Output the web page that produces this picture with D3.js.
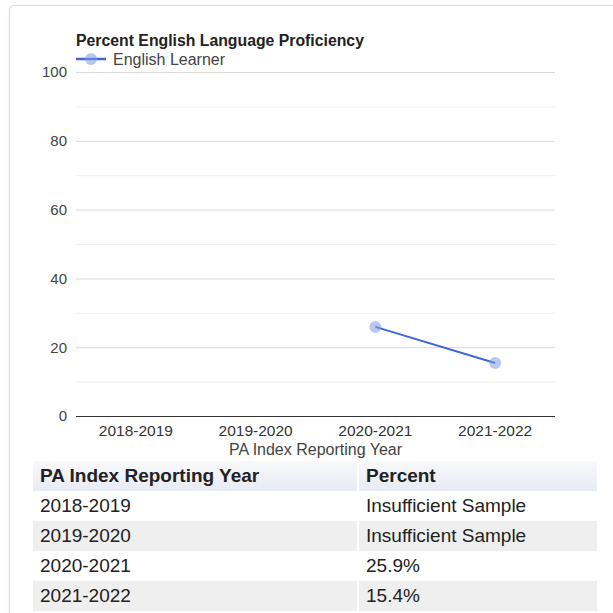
<!DOCTYPE html>
<html>
<head>
<meta charset="utf-8">
<script src="https://cdn.jsdelivr.net/npm/d3@7"></script>
<style>
  body { margin: 0; background: #fff; font-family: "Liberation Sans", Arial, sans-serif; }
  #card {
    position: absolute; left: 9px; top: 5px; width: 620px; height: 640px;
    border: 1px solid #dcdcdc; border-radius: 5px; box-shadow: 0 0 3px rgba(0,0,0,0.08);
    background: #fff;
  }
  #chart { position: absolute; left: 0; top: 0; }
  table {
    position: absolute; left: 31px; top: 461px; width: 568px;
    border-collapse: separate; border-spacing: 2px 0;
    font-size: 19px; color: #222;
  }
  th { text-align: left; font-weight: bold; height: 30px; padding: 0 7px;
       background: linear-gradient(#f9f9fb, #e8ebf4); }
  td { height: 30px; padding: 0 7px; }
  tr.odd td { background: #fff; }
  tr.even td { background: #efefef; }
</style>
</head>
<body>
<div id="card"></div>
<svg id="chart" width="613" height="460"></svg>
<table id="tbl"></table>
<script>
const years = ["2018-2019", "2019-2020", "2020-2021", "2021-2022"];
const percents = [null, null, 25.9, 15.4];
const tableValues = ["Insufficient Sample", "Insufficient Sample", "25.9%", "15.4%"];
const yTicks = [0, 20, 40, 60, 80, 100];
const yMinor = [10, 30, 50, 70, 90];

const svg = d3.select("#chart");
const plotLeft = 76, plotRight = 555, plotTop = 72, plotBottom = 416;

const x = d3.scaleBand().domain(years).range([plotLeft, plotRight]);
const y = d3.scaleLinear().domain([0, 100]).range([plotBottom, plotTop]);

// gridlines
svg.append("g").selectAll("line").data(yMinor).join("line")
  .attr("x1", plotLeft).attr("x2", plotRight)
  .attr("y1", d => y(d) + 0.5).attr("y2", d => y(d) + 0.5)
  .attr("stroke", "#f0f0f0");
svg.append("g").selectAll("line").data(yTicks.filter(d => d > 0)).join("line")
  .attr("x1", plotLeft).attr("x2", plotRight)
  .attr("y1", d => y(d) + 0.5).attr("y2", d => y(d) + 0.5)
  .attr("stroke", "#d9d9d9");

// y labels
const yAxis = d3.axisLeft(y).tickValues(yTicks).tickSize(0).tickPadding(9);
svg.append("g").attr("transform", `translate(${plotLeft},0)`).call(yAxis)
  .call(g => g.select(".domain").remove())
  .selectAll("text").attr("font-size", 15).attr("fill", "#444")
  .attr("font-family", "Liberation Sans, Arial, sans-serif");

// x axis
const xAxis = d3.axisBottom(x).tickSize(0).tickPadding(9);
svg.append("g").attr("transform", `translate(0,${plotBottom})`).call(xAxis)
  .call(g => g.select(".domain").attr("stroke", "#333").attr("d", `M${plotLeft},0.5H${plotRight}`))
  .selectAll("text").attr("font-size", 15.5).attr("fill", "#333").attr("dy", "0.72em")
  .attr("font-family", "Liberation Sans, Arial, sans-serif");

svg.append("text").attr("x", (plotLeft + plotRight) / 2).attr("y", 455)
  .attr("text-anchor", "middle").attr("font-size", 16).attr("fill", "#444")
  .text("PA Index Reporting Year");

// series
const pts = years.map((yr, i) => ({ yr, v: percents[i] })).filter(d => d.v !== null);
const cx = d => x(d.yr) + x.bandwidth() / 2;
svg.append("path").datum(pts)
  .attr("d", d3.line().x(cx).y(d => y(d.v)))
  .attr("fill", "none").attr("stroke", "#3e67d4").attr("stroke-width", 2);
svg.selectAll("circle.pt").data(pts).join("circle").attr("class", "pt")
  .attr("cx", cx).attr("cy", d => y(d.v)).attr("r", 6)
  .attr("fill", "#7c9ce6").attr("fill-opacity", 0.55);

// title + legend
svg.append("text").attr("x", plotLeft).attr("y", 46)
  .attr("font-size", 15.8).attr("font-weight", "bold").attr("fill", "#222")
  .text("Percent English Language Proficiency");
svg.append("line").attr("x1", plotLeft).attr("x2", plotLeft + 30).attr("y1", 59).attr("y2", 59)
  .attr("stroke", "#3e67d4").attr("stroke-width", 2.5);
svg.append("circle").attr("cx", plotLeft + 15).attr("cy", 59).attr("r", 6)
  .attr("fill", "#7c9ce6").attr("fill-opacity", 0.55);
svg.append("text").attr("x", plotLeft + 37).attr("y", 64.5)
  .attr("font-size", 16).attr("fill", "#444").text("English Learner");

// table
const tbl = d3.select("#tbl");
tbl.append("tr").selectAll("th").data(["PA Index Reporting Year", "Percent"]).join("th")
  .style("width", (d, i) => i === 0 ? "310px" : null).text(d => d);
tbl.selectAll("tr.row").data(years).join("tr")
  .attr("class", (d, i) => "row " + (i % 2 ? "even" : "odd"))
  .selectAll("td").data((d, i) => [d, tableValues[i]]).join("td").text(d => d);
</script>
</body>
</html>
